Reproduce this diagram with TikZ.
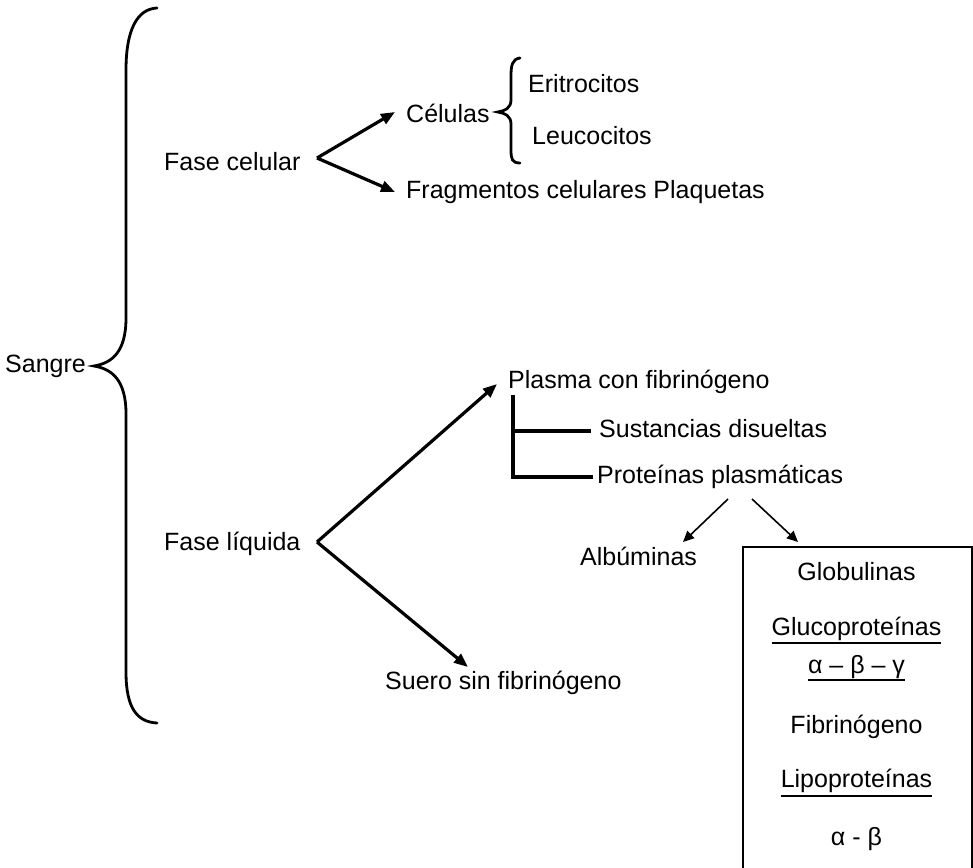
\documentclass[tikz,border=0pt]{standalone}
\usepackage{fontspec}
\setmainfont{Liberation Sans}
\usetikzlibrary{arrows.meta,calc}
\begin{document}
\begin{tikzpicture}[x=1pt,y=-1pt,
  lbl/.style={anchor=base west, inner sep=0pt, font=\fontsize{25}{30}\selectfont},
  ctr/.style={anchor=base, inner sep=0pt, font=\fontsize{25}{30}\selectfont},
  bigarrow/.style={line width=3.2pt, -{Triangle[length=14pt,width=11pt]}},
  smallarrow/.style={line width=1.6pt, -{Triangle[length=11pt,width=10pt]}},
  bracepath/.style={line width=2.8pt, line cap=round},
  tree/.style={line width=3.2pt},
  uline/.style={line width=1.8pt}]
\useasboundingbox (0,0) rectangle (973,867);
\clip (0,0) rectangle (973,867);
\fill[white] (0,0) rectangle (973,867);

% text nodes
\node[lbl] (sangre) at (5,372) {Sangre};
\node[lbl] (fc) at (164,170) {Fase celular};
\node[lbl] (cel) at (406,122) {Células};
\node[lbl] (eri) at (528,92) {Eritrocitos};
\node[lbl] (leu) at (532,144) {Leucocitos};
\node[lbl] (frag) at (406,198) {Fragmentos celulares Plaquetas};
\node[lbl] (fl) at (164,550) {Fase líquida};
\node[lbl] (pla) at (508,388) {Plasma con fibrinógeno};
\node[lbl] (sus) at (599,437) {Sustancias disueltas};
\node[lbl] (pro) at (597,483) {Proteínas plasmáticas};
\node[lbl] (alb) at (580,565) {Albúminas};
\node[lbl] (sue) at (385,689) {Suero sin fibrinógeno};

% box
\node[draw, line width=1.6pt, anchor=north west, minimum width=229pt, minimum height=360pt, inner sep=0pt] (box) at (742,546) {};
\node[ctr] (glo) at (856.5,580) {Globulinas};
\node[ctr] (glu) at (856.5,635) {Glucoproteínas};
\node[ctr] (abg) at (856.5,673) {α – β – γ};
\node[ctr] (fib) at (856.5,733) {Fibrinógeno};
\node[ctr] (lip) at (856.5,787) {Lipoproteínas};
\node[ctr] (ab) at (856.5,845) {α - β};
\draw[uline] ($(glu.base west)+(0,8)$) -- ($(glu.base east)+(0,8)$);
\draw[uline] ($(abg.base west)+(0,7)$) -- ($(abg.base east)+(0,7)$);
\draw[uline] ($(lip.base west)+(0,9)$) -- ($(lip.base east)+(0,9)$);

% big brace
\coordinate (btip) at ($(sangre.base east)+(8,-6)$);
\draw[bracepath] (157,8) .. controls (137,9) and (126,30) .. (126,70) -- (126,318)
  .. controls (126,352) and (112,363) .. (btip)
  .. controls (112,369) and (126,380) .. (126,414) -- (126,672)
  .. controls (126,708) and (137,722) .. (157,723);

% small brace
\coordinate (stip) at ($(cel.base east)+(8,-10)$);
\draw[bracepath] (520,58) .. controls (512,59) and (511,66) .. (511,76) -- (511,100)
  .. controls (511,108) and (505,111) .. (stip)
  .. controls (505,113) and (511,116) .. (511,124) -- (511,150)
  .. controls (511,159) and (512,163) .. (520,163);

% fase celular fork
\coordinate (v1) at ($(fc.base west)+(153,-12)$);
\draw[bigarrow] (v1) -- ($(cel.base west)+(-11,-10)$);
\draw[bigarrow] (v1) -- ($(frag.base west)+(-11,-6)$);

% fase liquida fork
\coordinate (v2) at ($(fl.base west)+(153,-8)$);
\draw[bigarrow] (v2) -- ($(pla.base west)+(-11,-4)$);
\draw[bigarrow] (v2) -- ($(sue.base west)+(83,-22)$);

% plasma tree
\draw[tree] ($(pla.base west)+(5,7)$) -- ($(pro.base west)+(-84,-6)$) -- ($(pro.base west)+(-4,-6)$);
\draw[tree] ($(sus.base west)+(-86,-6)$) -- ($(sus.base west)+(-8,-6)$);

% protein arrows
\draw[smallarrow] ($(pro.base west)+(131,16)$) -- ($(alb.base west)+(103,-23)$);
\draw[smallarrow] ($(pro.base west)+(155,16)$) -- ($(box.north west)+(56,-4)$);
\end{tikzpicture}
\end{document}
